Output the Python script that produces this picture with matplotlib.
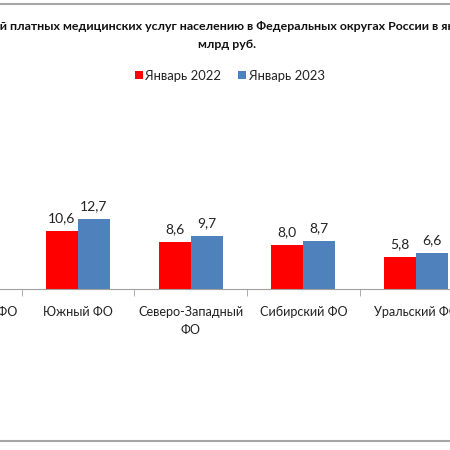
import matplotlib
matplotlib.use("Agg")
import matplotlib.pyplot as plt
from matplotlib.lines import Line2D
import numpy as np

plt.rcParams['font.family'] = ['Lato', 'DejaVu Sans']

# данные (левый округ почти за кадром, значения оценочные)
districts = ["Приволжский ФО", "Южный ФО", "Северо-Западный\nФО", "Сибирский ФО", "Уральский ФО"]
jan_2022 = [14.2, 10.6, 8.6, 8.0, 5.8]
jan_2023 = [16.9, 12.7, 9.7, 8.7, 6.6]
series_names = ["Январь 2022", "Январь 2023"]

title_head = "Объем поступлени"
title_visible = "й платных медицинских услуг населению в Федеральных округах России в я"
title_tail = "нваре 2022-2023 гг.,"
title_line2 = "млрд руб."

red = "#FF0000"
blue = "#4F81BD"

fig = plt.figure(figsize=(4.5, 4.5), dpi=100)
fig.patch.set_facecolor("white")

# оси шире картинки - график обрезан слева и справа
ax = fig.add_axes([-0.2023, 0.3578, 1.2522, 0.2444])
x = np.arange(len(districts))
w = 0.284
b1 = ax.bar(x - w / 2, jan_2022, w, color=red, label=series_names[0])
b2 = ax.bar(x + w / 2, jan_2023, w, color=blue, label=series_names[1])

for bars, vals in [(b1, jan_2022), (b2, jan_2023)]:
    for r, v in zip(bars, vals):
        ax.annotate(f"{v:.1f}".replace(".", ","), (r.get_x() + r.get_width() / 2, v),
                    xytext=(0, 5), textcoords="offset points", ha="center", va="bottom",
                    fontsize=10, color="#222222")

ax.set_xlim(-0.5, len(districts) - 0.5)
ax.set_ylim(0, 20)
ax.set_xticks(x)
ax.set_xticklabels(districts, fontsize=9.1, color="#222222")
for lbl in ax.get_xticklabels():
    lbl.set_linespacing(1.6)
ax.set_xticks(np.arange(len(districts) + 1) - 0.5, minor=True)
ax.tick_params(axis="x", which="major", length=0, pad=12)
ax.tick_params(axis="x", which="minor", length=5, color="#a0a0a0")
ax.set_yticks([])
for s in ["top", "left", "right"]:
    ax.spines[s].set_visible(False)
ax.spines["bottom"].set_color("#a0a0a0")
ax.patch.set_alpha(0)

# заголовок: видимая часть первой строки занимает всю ширину
renderer = fig.canvas.get_renderer()
probe = fig.text(0, 0, title_visible, fontsize=10, fontweight="bold")
vis_w = probe.get_window_extent(renderer).width
probe.remove()
tsize = 10 * 450 / vis_w
probe = fig.text(0, 0, title_head, fontsize=tsize, fontweight="bold")
head_w = probe.get_window_extent(renderer).width
probe.remove()
fig.text(-head_w / 450, 1 - 27 / 450, title_head + title_visible + title_tail, ha="left",
         va="center", fontsize=tsize, fontweight="bold", color="#111111")
fig.text(227 / 450, 1 - 45 / 450, title_line2, ha="center", va="center", fontsize=tsize,
         fontweight="bold", color="#111111")

fig.legend(loc="center", bbox_to_anchor=(0.511, 0.832), ncol=2, frameon=False, fontsize=9.4,
           handlelength=0.6, handleheight=0.6, columnspacing=1.3, handletextpad=0.2,
           labelcolor="#222222")

# рамка диаграммы сверху и снизу
fig.add_artist(Line2D([0, 1], [0.991, 0.991], color="#a6a6a6", lw=1.5, transform=fig.transFigure))
fig.add_artist(Line2D([0, 1], [0.02, 0.02], color="#a6a6a6", lw=1.5, transform=fig.transFigure))

fig.savefig("out.png", dpi=100)
